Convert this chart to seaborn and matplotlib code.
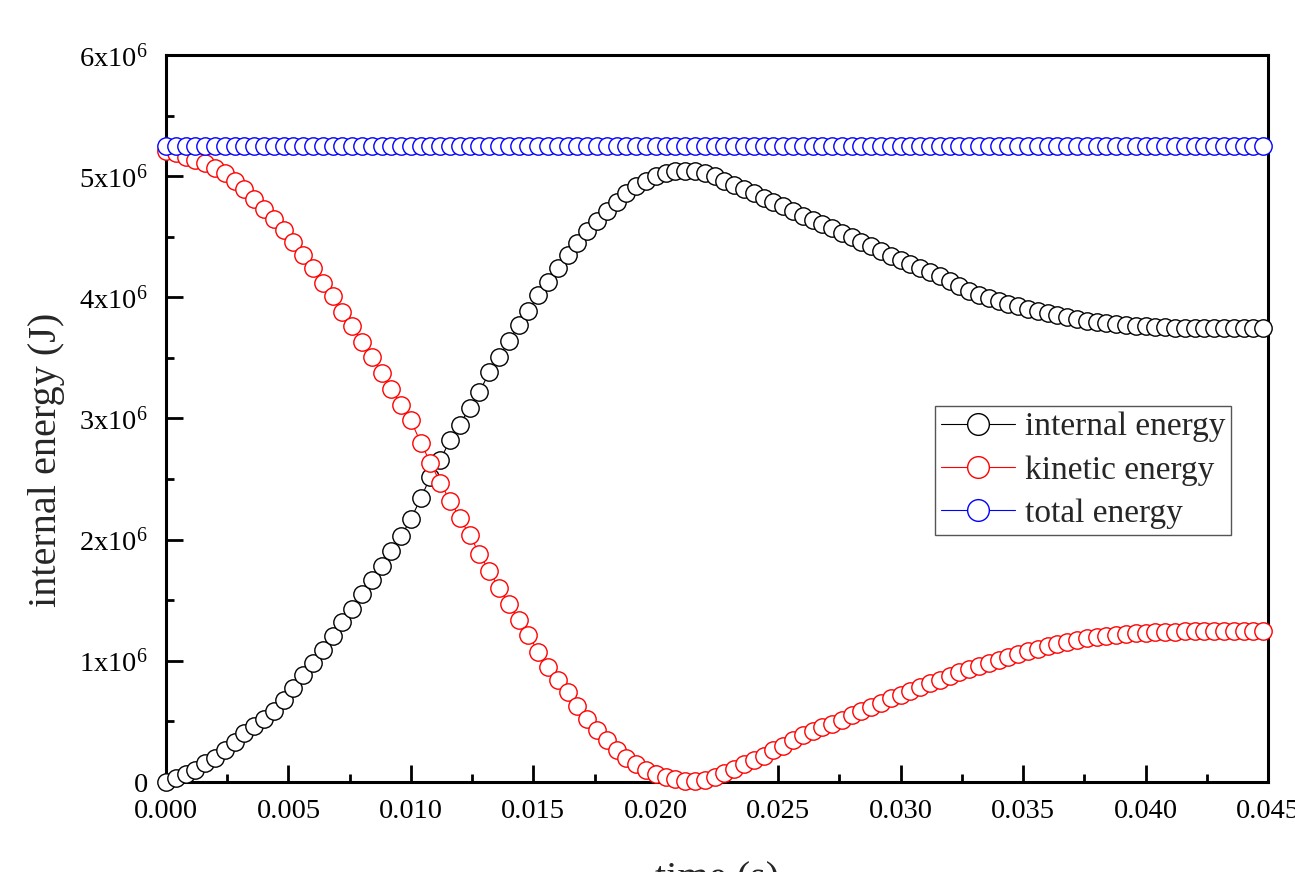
import numpy as np
import pandas as pd
import matplotlib
matplotlib.use("Agg")
import matplotlib.pyplot as plt
import seaborn as sns
from matplotlib.ticker import MultipleLocator

# ---------------- data (energies in units of 1e6 J) ----------------
time_s = np.round(np.arange(113) * 0.0004, 4)

internal_MJ = [
    0.0, 0.035, 0.065, 0.10, 0.155, 0.20, 0.26, 0.33, 0.405, 0.465,
    0.52, 0.59, 0.68, 0.775, 0.88, 0.98, 1.09, 1.205, 1.32, 1.43,
    1.55, 1.67, 1.785, 1.905, 2.03, 2.17, 2.34, 2.52, 2.66, 2.82,
    2.95, 3.09, 3.22, 3.38, 3.51, 3.64, 3.77, 3.89, 4.02, 4.13,
    4.24, 4.35, 4.45, 4.55, 4.63, 4.71, 4.79, 4.86, 4.915, 4.96,
    5.0, 5.025, 5.04, 5.042, 5.04, 5.023, 4.998, 4.964, 4.927, 4.893,
    4.859, 4.818, 4.784, 4.75, 4.71, 4.672, 4.638, 4.604, 4.571, 4.531,
    4.495, 4.46, 4.42, 4.382, 4.343, 4.307, 4.272, 4.239, 4.205, 4.172,
    4.134, 4.092, 4.053, 4.022, 3.996, 3.972, 3.949, 3.929, 3.906, 3.889,
    3.872, 3.855, 3.838, 3.821, 3.805, 3.794, 3.788, 3.781, 3.774, 3.767,
    3.76, 3.757, 3.753, 3.75, 3.748, 3.747, 3.747, 3.747, 3.747, 3.747,
    3.747, 3.747, 3.747,
]

kinetic_MJ = [
    5.21, 5.19, 5.16, 5.13, 5.105, 5.07, 5.025, 4.96, 4.89, 4.81,
    4.73, 4.65, 4.555, 4.455, 4.35, 4.24, 4.12, 4.01, 3.88, 3.76,
    3.635, 3.51, 3.375, 3.245, 3.115, 2.985, 2.80, 2.635, 2.47, 2.32,
    2.18, 2.035, 1.885, 1.74, 1.60, 1.47, 1.335, 1.215, 1.075, 0.95,
    0.84, 0.74, 0.625, 0.52, 0.43, 0.345, 0.265, 0.20, 0.145, 0.10,
    0.065, 0.04, 0.028, 0.012, 0.01, 0.02, 0.04, 0.075, 0.11, 0.145,
    0.18, 0.215, 0.26, 0.30, 0.345, 0.385, 0.42, 0.45, 0.48, 0.515,
    0.55, 0.585, 0.62, 0.655, 0.69, 0.72, 0.755, 0.785, 0.815, 0.845,
    0.875, 0.905, 0.935, 0.96, 0.985, 1.01, 1.035, 1.06, 1.08, 1.10,
    1.12, 1.14, 1.155, 1.17, 1.185, 1.195, 1.205, 1.215, 1.222, 1.228,
    1.233, 1.237, 1.24, 1.242, 1.243, 1.244, 1.245, 1.245, 1.245, 1.245,
    1.245, 1.245, 1.245,
]

total_MJ = [5.25] * 113

series_names = ["internal energy", "kinetic energy", "total energy"]
series_colors = ["#000000", "#FF0000", "#0000FF"]

x_ticks = [0.000, 0.005, 0.010, 0.015, 0.020, 0.025, 0.030, 0.035, 0.040, 0.045]
x_tick_labels = ["0.000", "0.005", "0.010", "0.015", "0.020",
                 "0.025", "0.030", "0.035", "0.040", "0.045"]
y_ticks = [0, 1e6, 2e6, 3e6, 4e6, 5e6, 6e6]
y_tick_labels = ["0"] + [r"$\mathregular{%dx10^{6}}$" % k for k in range(1, 7)]

# ---------------- style ----------------
sns.set_theme(style="ticks")
plt.rcParams["font.family"] = ["Liberation Serif", "DejaVu Serif"]
plt.rcParams["mathtext.fontset"] = "custom"
plt.rcParams["mathtext.rm"] = "Liberation Serif"
plt.rcParams["mathtext.it"] = "Liberation Serif:italic"
plt.rcParams["mathtext.bf"] = "Liberation Serif:bold"

W, H = 1295, 872
fig = plt.figure(figsize=(W / 100, H / 100), dpi=100)
ax = fig.add_axes([166 / W, 1 - 782 / H, (1268 - 166) / W, (782 - 55) / H])

for name, vals, color, z in zip(series_names,
                                [internal_MJ, kinetic_MJ, total_MJ],
                                series_colors, [3, 4, 5]):
    df = pd.DataFrame({"time": time_s, "energy": np.array(vals) * 1e6})
    sns.lineplot(data=df, x="time", y="energy", ax=ax, color=color,
                 estimator=None, errorbar=None, sort=False,
                 marker="o", markersize=12.5, markerfacecolor="white",
                 markeredgecolor=color, markeredgewidth=1.0,
                 linewidth=0.8, label=name, clip_on=False, zorder=z)

ax.set_xlim(0, 0.045)
ax.set_ylim(0, 6e6)
ax.set_xticks(x_ticks, labels=x_tick_labels)
ax.set_yticks(y_ticks, labels=y_tick_labels)
ax.xaxis.set_minor_locator(MultipleLocator(0.0025))
ax.yaxis.set_minor_locator(MultipleLocator(0.5e6))

ax.tick_params(which="both", direction="in", top=False, right=False,
               width=2, colors="black", labelsize=20.5)
ax.tick_params(which="major", length=12)
ax.tick_params(which="minor", length=6)
ax.tick_params(axis="x", pad=12)
ax.tick_params(axis="y", pad=13)
for sp in ax.spines.values():
    sp.set_linewidth(2.2)
    sp.set_color("black")
    sp.set_visible(True)

ax.set_xlabel("time (s)", fontsize=29, labelpad=27)
ax.set_ylabel("internal energy (J)", fontsize=29)
ax.yaxis.set_label_coords((65 - 166) / 1102, (782 - 460) / 727)

leg = ax.legend(loc="upper left", bbox_to_anchor=(0.698, (782 - 406) / 727),
                frameon=True, fancybox=False, edgecolor="#555555",
                framealpha=1, fontsize=24, markerscale=1.25,
                handlelength=2.2, handletextpad=0.3, labelspacing=0.38,
                borderpad=0.18, borderaxespad=0)
leg.get_frame().set_linewidth(1.0)

fig.savefig("out.png", dpi=100)
